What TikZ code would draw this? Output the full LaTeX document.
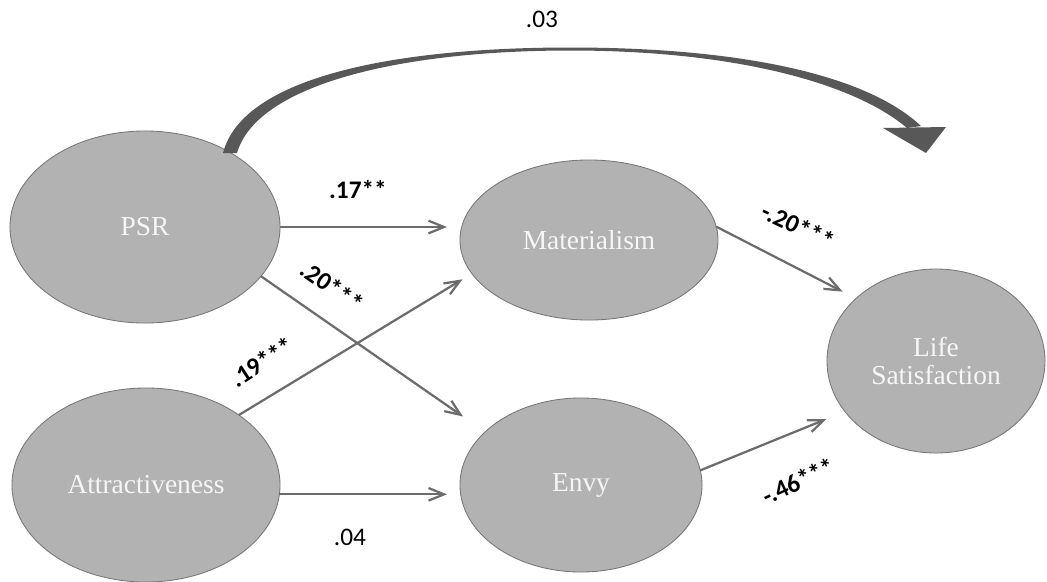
\documentclass[tikz,border=0pt]{standalone}
\usepackage{fontspec}
\setmainfont{Liberation Serif}
\newfontfamily\coeffont{Carlito}
\usetikzlibrary{arrows.meta,shapes.geometric}

% ---------- Colours ----------
\definecolor{ellipsefill}{RGB}{178,178,178}
\definecolor{ellipseborder}{RGB}{118,118,118}
\definecolor{arrowcolor}{RGB}{108,108,108}
\definecolor{curvecolor}{RGB}{88,88,88}
\definecolor{nodetext}{RGB}{246,246,246}

\tikzset{
  latent/.style={ellipse, draw=ellipseborder, fill=ellipsefill, line width=0.6pt,
    inner sep=0pt, outer sep=0pt, text=nodetext, align=center,
    font=\fontsize{19.5}{20}\selectfont},
  effect/.style={draw=arrowcolor, line width=1.6pt,
    -{Straight Barb[length=11pt,width=9pt]}},
  coef/.style={font=\coeffont\bfseries\fontsize{18}{20}\selectfont, inner sep=1pt},
  coefplain/.style={font=\coeffont\fontsize{18}{20}\selectfont, inner sep=1pt}
}

\begin{document}
\begin{tikzpicture}[x=0.025cm,y=-0.025cm]

% (0,0) = upper left corner, one unit = one pixel of the reference
\useasboundingbox (0,0) rectangle (1047,581);

% ---------- Latent variables ----------
\node[latent, minimum width=6.75cm, minimum height=4.8cm]  (psr)  at (145,227) {PSR};
\node[latent, minimum width=6.7cm,  minimum height=4.85cm] (attr) at (146,485) {Attractiveness};
\node[latent, minimum width=6.45cm, minimum height=4cm]    (mat)  at (589,240) {Materialism};
\node[latent, minimum width=6.05cm, minimum height=4.35cm] (envy) at (581,485) {Envy};
\node[latent, minimum width=5.45cm, minimum height=4.6cm]  (life) at (936,361) {Life\\Satisfaction};

% ---------- Direct effect PSR -> life satisfaction (tapered arrow) ----------
\coordinate (curvetip) at (926,153);
\fill[curvecolor]
  (223,153) .. controls (243,76) and (398,47.5) .. (570,47.5)
  .. controls (745,47.5) and (868,76) .. (921,126)
  -- (907,128) .. controls (855,84) and (738,50.5) .. (570,50.5)
  .. controls (402,50.5) and (257,84) .. (237,153) -- cycle;
\fill[curvecolor] (883,128) -- (946,127) -- (curvetip) -- cycle;
\node[coefplain] (cDirect) at (542,19) {.03};

% ---------- Paths to the mediators ----------
\draw[effect, shorten >=0.325cm] (psr.east) -- (psr.east -| mat.west);
\draw[effect, shorten >=0.675cm] (psr.-23.6) -- (envy.151.8);
\draw[effect, shorten >=0.275cm] (attr.37) -- (mat.196);
\draw[effect, shorten >=0.325cm] (attr.-4) -- (attr.-4 -| envy.west);

% ---------- Paths to life satisfaction ----------
\draw[effect, shorten >=0.375cm] (mat.6.3) -- (life.142.6);
\draw[effect, shorten >=0.5cm]   (envy.7) -- (life.209.2);

% ---------- Coefficients ----------
\node[coef] (cPsrMat) at (358,190) {.17**};
\node[coef, rotate=-35] (cPsrEnvy) at (332,286) {.20***};
\node[coef, rotate=33] (cAttrMat) at (262,362) {.19***};
\node[coefplain] (cAttrEnvy) at (350,537) {.04};
\node[coef, rotate=-25] (cMatLife) at (798,226) {-.20***};
\node[coef, rotate=25] (cEnvyLife) at (798,481) {-.46***};

\end{tikzpicture}
\end{document}
